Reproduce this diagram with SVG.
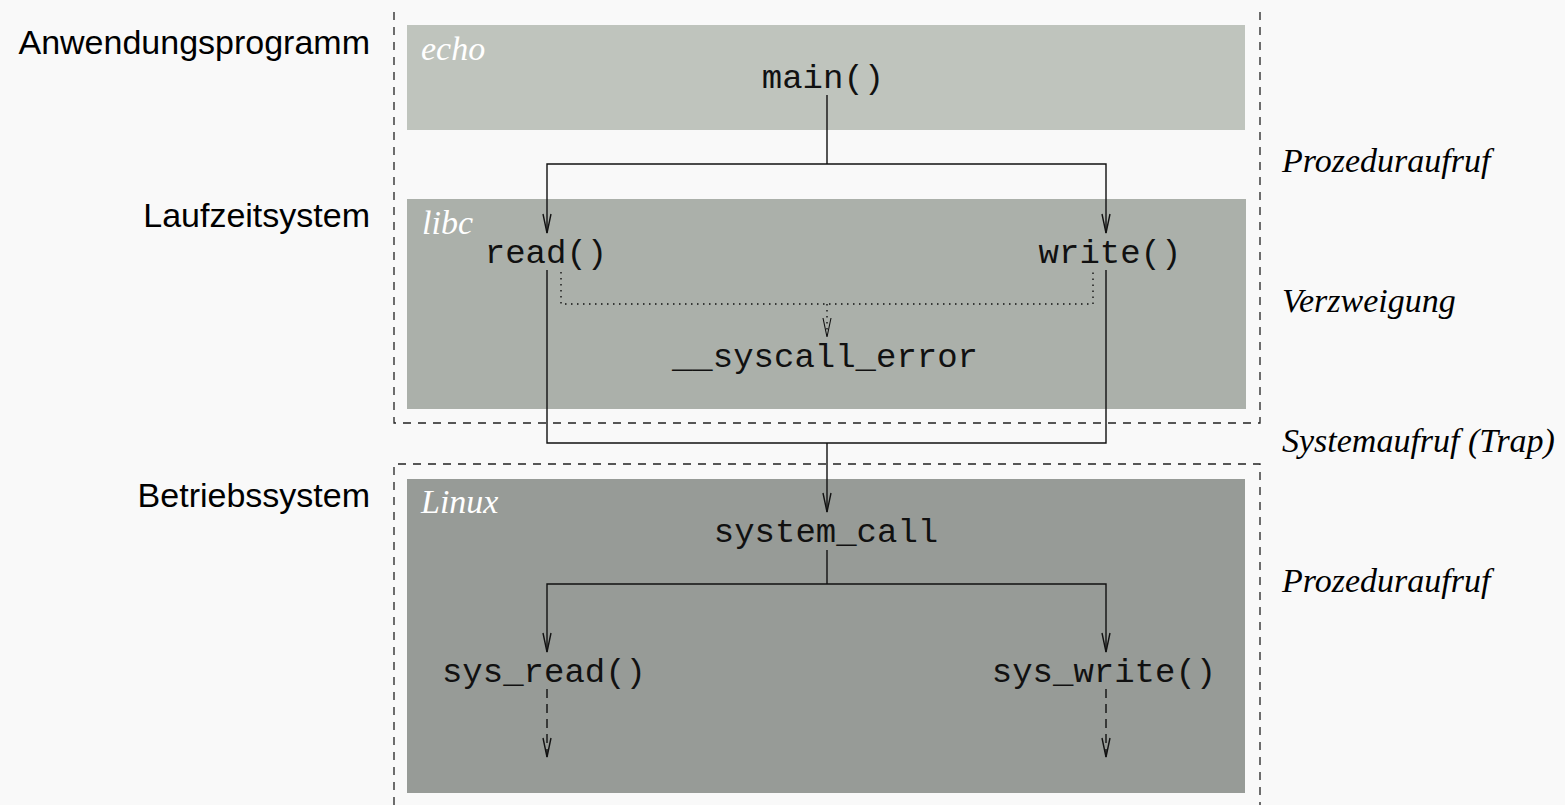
<svg xmlns="http://www.w3.org/2000/svg" width="1565" height="805" viewBox="0 0 1565 805">
<style>
.bg{fill:#f9f9f9}
.layer{fill:none;stroke:#222;stroke-width:1.3;stroke-dasharray:8,7}
.mono{font-family:"Liberation Mono","Courier New",monospace;font-size:34px;fill:#111;text-anchor:middle}
.lbl{font-family:"Liberation Sans",Arial,sans-serif;font-size:34px;fill:#000;text-anchor:end}
.it{font-family:"Liberation Serif","Times New Roman",serif;font-style:italic;font-size:34px;fill:#000}
.itw{font-family:"Liberation Serif","Times New Roman",serif;font-style:italic;font-size:34px;fill:#fff}
.c{fill:none;stroke:#111;stroke-width:1.4}
.dot{fill:none;stroke:#111;stroke-width:1.4;stroke-dasharray:1.5,4.5}
.dash{fill:none;stroke:#111;stroke-width:1.4;stroke-dasharray:9,6}
</style>
<defs>
<marker id="ah" markerUnits="userSpaceOnUse" markerWidth="20" markerHeight="10" refX="0" refY="0" orient="auto" overflow="visible">
<path d="M-19,-4 L0,0 L-19,4" fill="none" stroke="#111" stroke-width="1.4"/>
</marker>
</defs>
<rect class="bg" x="0" y="0" width="1565" height="805"/>
<g id="layers">
<path class="layer" d="M394,12 V423 H1260 V12"/>
<path class="layer" d="M394,805 V464 H1260 V805"/>
</g>
<g id="side-labels">
<text class="lbl" x="370" y="54">Anwendungsprogramm</text>
<text class="lbl" x="370" y="227">Laufzeitsystem</text>
<text class="lbl" x="370" y="507">Betriebssystem</text>
<text class="it" x="1282" y="172">Prozeduraufruf</text>
<text class="it" x="1282" y="312">Verzweigung</text>
<text class="it" x="1282" y="452">Systemaufruf (Trap)</text>
<text class="it" x="1282" y="592">Prozeduraufruf</text>
</g>
<g id="echo">
<rect x="407" y="25" width="838" height="105" fill="#bfc4bd"/>
<text class="itw" x="421" y="60">echo</text>
</g>
<g id="libc">
<rect x="407" y="199" width="839" height="210" fill="#abb0aa"/>
<text class="itw" x="422" y="234">libc</text>
</g>
<g id="linux">
<rect x="407" y="479" width="838" height="314" fill="#979b97"/>
<text class="itw" x="421" y="513">Linux</text>
</g>
<g id="main"><text class="mono" x="823" y="88">main()</text></g>
<g id="read"><text class="mono" x="546" y="263">read()</text></g>
<g id="write"><text class="mono" x="1110" y="263">write()</text></g>
<g id="syscall_error"><text class="mono" x="825" y="367">__syscall_error</text></g>
<g id="system_call"><text class="mono" x="826" y="542">system_call</text></g>
<g id="sys_read"><text class="mono" x="544" y="682">sys_read()</text></g>
<g id="sys_write"><text class="mono" x="1104" y="682">sys_write()</text></g>
<g id="connectors">
<path class="c" d="M827,95 V164"/>
<path class="c" d="M827,164 H547 V233" marker-end="url(#ah)"/>
<path class="c" d="M827,164 H1106 V233" marker-end="url(#ah)"/>
<path class="c" d="M547,270 V443 H1106 V270"/>
<path class="c" d="M827,443 V512" marker-end="url(#ah)"/>
<path class="dot" d="M561,272 V304 H1093 V272"/>
<path class="dot" d="M827,304 V337"/>
<path d="M823,318 L827,337 L831,318" fill="none" stroke="#111" stroke-width="1.1"/>
<path class="c" d="M827,550 V584"/>
<path class="c" d="M827,584 H547 V652" marker-end="url(#ah)"/>
<path class="c" d="M827,584 H1106 V652" marker-end="url(#ah)"/>
<path class="dash" d="M547,689 V757" marker-end="url(#ah)"/>
<path class="dash" d="M1106,689 V757" marker-end="url(#ah)"/>
</g>
</svg>
